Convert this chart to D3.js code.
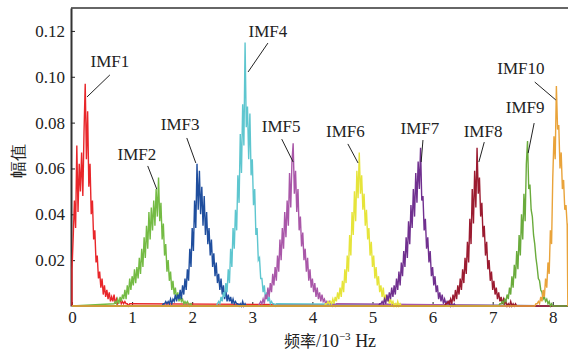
<!DOCTYPE html>
<html>
<head>
<meta charset="utf-8">
<script src="https://cdn.jsdelivr.net/npm/d3@7"></script>
<style>
  body { margin: 0; background: #fff; }
  text { font-family: "Liberation Serif", "Times New Roman", serif; }
</style>
</head>
<body>
<div id="canvas"></div>
<script>
const w = 568;
const h = 352;

// frequency step of the spectrum samples (10^-3 Hz)
const step = 0.02;

// amplitude values in units of 1e-3, one sample per step from the start frequency
const imfNames = ["IMF1", "IMF2", "IMF3", "IMF4", "IMF5", "IMF6", "IMF7", "IMF8", "IMF9", "IMF10"];
const imfColors = ["#e8262a", "#74bb44", "#1f4e9e", "#5ec6cf", "#a957a8", "#e6e43a", "#70308f", "#9b1b30", "#6aab3c", "#e9a33a"];
const imfStart = [0.00, 0.70, 1.50, 2.40, 3.10, 4.20, 5.10, 6.20, 7.10, 7.70];

const imf1 = [16, 30, 46, 34, 70, 41, 62, 50, 67, 48, 76, 97, 64, 85, 52, 62, 40, 46, 29, 33,
  19, 22, 12, 15, 8, 12, 5, 9, 4, 7, 3, 6, 2, 4, 2, 5, 1, 3, 1, 2, 3, 1, 2, 1, 2, 1, 1, 0, 1, 1];
const imf2 = [1, 2, 1, 3, 1, 4, 2, 5, 3, 7, 3, 9, 5, 12, 7, 13, 9, 16, 10, 17, 12, 21, 14, 25, 17, 30,
  21, 35, 25, 41, 29, 43, 33, 46, 35, 51, 39, 56, 37, 45, 29, 36, 22, 27, 15, 20, 11, 15, 7, 11, 5, 8,
  3, 6, 2, 4, 2, 3, 1, 2, 1, 2, 1, 0, 1, 0];
const imf3 = [0, 1, 1, 2, 1, 2, 1, 3, 1, 3, 2, 5, 2, 5, 3, 7, 3, 9, 5, 12, 7, 16, 11, 25, 17, 34, 24,
  46, 34, 62, 42, 59, 40, 52, 35, 48, 31, 41, 27, 34, 22, 29, 17, 23, 13, 19, 10, 14, 7, 12, 5, 9, 3,
  7, 2, 5, 2, 4, 1, 3, 1, 2, 1, 1, 0, 1, 0, 2, 0, 1, 0];
const imf4 = [0, 1, 2, 1, 4, 2, 6, 4, 10, 6, 16, 10, 25, 17, 34, 25, 42, 33, 57, 45, 75, 58, 88, 70,
  115, 78, 87, 64, 84, 57, 64, 44, 51, 31, 34, 20, 21, 12, 12, 6, 9, 3, 6, 2, 4, 1, 2, 1, 1, 0, 1];
const imf5 = [0, 1, 2, 1, 3, 1, 5, 3, 8, 4, 10, 6, 14, 9, 17, 11, 22, 15, 29, 20, 34, 25, 41, 30, 46,
  35, 58, 43, 63, 71, 49, 59, 41, 51, 33, 39, 26, 32, 20, 25, 15, 21, 11, 16, 8, 12, 6, 10, 4, 8, 3,
  6, 2, 5, 2, 3, 1, 2, 1, 2, 1, 1, 0, 1, 0, 1];
const imf6 = [0, 1, 1, 2, 1, 2, 1, 3, 1, 4, 2, 6, 3, 8, 4, 11, 6, 16, 10, 22, 15, 31, 22, 41, 31, 50,
  37, 59, 47, 67, 49, 57, 42, 49, 35, 42, 29, 34, 22, 28, 17, 22, 12, 17, 9, 13, 6, 9, 4, 8, 2, 5,
  2, 4, 1, 3, 1, 2, 0, 1, 0, 2, 0, 1, 0, 0];
const imf7 = [0, 1, 1, 2, 1, 3, 1, 5, 2, 6, 3, 8, 4, 9, 5, 12, 7, 15, 9, 19, 13, 24, 17, 30, 21, 37,
  27, 44, 34, 51, 39, 58, 45, 63, 51, 69, 46, 48, 33, 38, 25, 30, 19, 24, 13, 17, 9, 13, 6, 9, 3, 6,
  2, 5, 1, 3, 1, 2, 1, 2, 0, 1, 0, 1, 0, 0];
const imf8 = [0, 1, 1, 2, 1, 3, 1, 5, 2, 7, 3, 9, 5, 12, 7, 16, 10, 21, 14, 28, 19, 38, 27, 51, 36, 59,
  43, 69, 49, 56, 39, 45, 30, 35, 22, 28, 16, 20, 11, 15, 7, 11, 5, 8, 3, 6, 2, 4, 1, 3, 1, 2, 0, 1,
  0, 2, 0, 1, 0, 1, 0];
const imf9 = [0, 1, 1, 2, 1, 3, 2, 5, 3, 8, 5, 13, 8, 18, 12, 24, 16, 31, 22, 40, 29, 49, 37, 62, 72,
  51, 53, 42, 39, 31, 27, 21, 17, 12, 11, 7, 6, 3, 4, 2, 3, 1, 2, 0, 1, 0];
const imf10 = [0, 1, 1, 2, 1, 4, 2, 7, 4, 12, 8, 19, 14, 33, 27, 56, 74, 64, 96, 77, 79, 60, 67, 51,
  55, 42, 44, 35, 36];
const imfValues = [imf1, imf2, imf3, imf4, imf5, imf6, imf7, imf8, imf9, imf10];

// annotation: label anchor and leader line ends, in data units
const labelX = [0.63, 1.08, 1.80, 3.26, 3.48, 4.55, 5.79, 6.84, 7.54, 7.47];
const labelY = [0.1043, 0.0637, 0.0768, 0.1173, 0.0759, 0.0737, 0.0750, 0.0737, 0.0842, 0.1012];
const leadFrom = [[0.63, 0.1008], [1.26, 0.0611], [1.91, 0.0733], [3.26, 0.1147], [3.49, 0.0728],
  [4.59, 0.0707], [5.84, 0.0724], [6.86, 0.0715], [7.69, 0.0798], [7.70, 0.0977]];
const leadTo = [[0.25, 0.0912], [1.41, 0.0510], [2.06, 0.0624], [2.93, 0.1021], [3.68, 0.0628],
  [4.76, 0.0624], [5.81, 0.0628], [6.77, 0.0628], [7.59, 0.0667], [8.05, 0.0899]];

const xTicks = [0, 1, 2, 3, 4, 5, 6, 7, 8];
const yTicks = [0.02, 0.04, 0.06, 0.08, 0.10, 0.12];
const xMax = 8.25;
const yMax = 0.13;

let svg = d3.select("#canvas").append("svg").attr("width", w).attr("height", h);

let x = d3.scaleLinear().domain([0, xMax]).range([72, 567.8]);
let y = d3.scaleLinear().domain([0, yMax]).range([306, 8]);

// frame: top line
svg.append("line")
  .attr("x1", 71).attr("x2", w).attr("y1", y(yMax)).attr("y2", y(yMax))
  .attr("stroke", "#333").attr("stroke-width", 1.5);

let xAxis = svg.append("g")
  .attr("transform", "translate(0," + y(0) + ")")
  .call(d3.axisBottom(x).tickValues(xTicks).tickFormat(d3.format("d"))
    .tickSizeInner(-4).tickSizeOuter(0).tickPadding(5));

let yAxis = svg.append("g")
  .attr("transform", "translate(" + (x(0) - 1) + ",0)")
  .call(d3.axisLeft(y).tickValues(yTicks).tickFormat(d3.format(".2f"))
    .tickSizeInner(-4).tickSizeOuter(0).tickPadding(6));

[xAxis, yAxis].forEach(function(g) {
  g.selectAll("text").attr("font-size", 17).attr("fill", "#222")
    .attr("font-family", "Liberation Serif, serif");
  g.selectAll("line").attr("stroke", "#222");
});
xAxis.select(".domain").attr("stroke", "#222").attr("stroke-width", 1.2);
yAxis.select(".domain").attr("stroke", "#333").attr("stroke-width", 2);

// spectra
let line = d3.line().x((d) => x(d[0])).y((d) => y(d[1]));

for (let k = 0; k < imfValues.length; k++) {
  let pts = [[0, 0]];
  imfValues[k].forEach(function(v, i) {
    pts.push([imfStart[k] + i * step, v / 1000]);
  });
  pts.push([xMax, 0]);
  pts.sort((a, b) => a[0] - b[0]);
  svg.append("path").datum(pts)
    .attr("d", line)
    .attr("fill", "none")
    .attr("stroke", imfColors[k])
    .attr("stroke-width", 1.4)
    .attr("stroke-linejoin", "miter");
}

// labels with leader lines
for (let k = 0; k < imfNames.length; k++) {
  svg.append("line")
    .attr("x1", x(leadFrom[k][0])).attr("y1", y(leadFrom[k][1]))
    .attr("x2", x(leadTo[k][0])).attr("y2", y(leadTo[k][1]))
    .attr("stroke", "#222").attr("stroke-width", 1);
  svg.append("text")
    .attr("x", x(labelX[k])).attr("y", y(labelY[k]))
    .attr("text-anchor", "middle")
    .attr("font-size", 17).attr("fill", "#222")
    .text(imfNames[k]);
}

// axis titles
svg.append("text")
  .attr("transform", "translate(24,161) rotate(-90)")
  .attr("text-anchor", "middle")
  .attr("font-family", "Noto Sans CJK SC")
  .attr("font-size", 17).attr("fill", "#222")
  .text("幅值");

let xt = svg.append("text")
  .attr("x", 330).attr("y", 347)
  .attr("text-anchor", "middle")
  .attr("font-size", 18).attr("fill", "#222");
xt.append("tspan").attr("font-family", "Noto Sans CJK SC").attr("font-size", 16).text("频率");
xt.append("tspan").text("/10");
xt.append("tspan").attr("font-size", 11).attr("dy", -7).text("−3");
xt.append("tspan").attr("dy", 7).text(" Hz");
</script>
</body>
</html>
